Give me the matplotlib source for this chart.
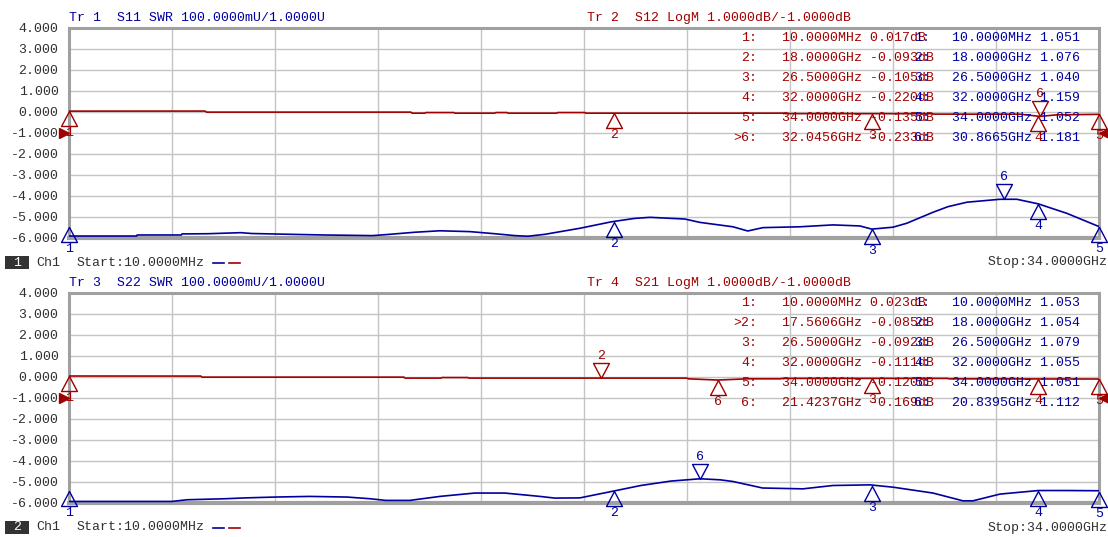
import numpy as np
import matplotlib
matplotlib.use("Agg")
import matplotlib.pyplot as plt
from matplotlib.path import Path
from matplotlib.patches import Rectangle
from matplotlib.lines import Line2D
from matplotlib.transforms import offset_copy

# ---------------- data ----------------
start_ghz = 0.01
stop_ghz = 34.0

# Panel 1, Tr1 S11 SWR
freq_s11 = [0.01, 2.24, 2.26, 3.72, 3.74, 4.59, 5.68, 6.04, 7.36, 8.42, 10.03, 10.50, 11.42,
            12.25, 13.24, 14.06, 14.72, 15.15, 15.71, 16.87, 17.92, 18.68, 19.18, 20.33, 20.83,
            21.92, 22.41, 22.91, 24.13, 25.22, 26.11, 26.50, 27.20, 27.66, 28.52, 29.02, 29.64,
            30.73, 31.29, 32.00, 32.94, 34.0]
swr_s11 = [1.007, 1.007, 1.012, 1.012, 1.017, 1.018, 1.023, 1.019, 1.015, 1.012, 1.009, 1.014, 1.025,
           1.032, 1.028, 1.018, 1.009, 1.006, 1.015, 1.044, 1.075, 1.091, 1.096, 1.088, 1.072,
           1.051, 1.031, 1.047, 1.051, 1.060, 1.055, 1.040, 1.049, 1.068, 1.120, 1.147, 1.168,
           1.182, 1.182, 1.160, 1.115, 1.052]

# Panel 1, Tr2 S12 LogM (dB)
freq_s12 = [0.01, 4.50, 4.55, 11.29, 11.33, 11.75, 11.79, 12.71, 12.75, 14.06, 14.10, 14.46,
            14.50, 16.10, 16.14, 17.03, 17.07, 23.60, 23.65, 28.50, 28.55, 31.40, 32.05, 32.60, 34.0]
db_s12 = [0.017, 0.020, -0.030, -0.030, -0.080, -0.080, -0.050, -0.050, -0.080, -0.080, -0.050, -0.050,
          -0.080, -0.080, -0.050, -0.050, -0.080, -0.080, -0.100, -0.105, -0.125, -0.130, -0.233, -0.160, -0.135]

# Panel 2, Tr3 S22 SWR
freq_s22 = [0.01, 3.40, 3.90, 5.18, 5.84, 6.83, 7.95, 9.18, 9.94, 10.46, 11.26, 12.25, 13.40, 14.39,
            15.55, 16.04, 16.87, 18.00, 18.88, 19.87, 20.84, 21.50, 21.92, 22.90, 24.23, 25.22, 26.44,
            27.20, 28.52, 29.51, 29.84, 30.73, 32.00, 32.94, 34.0]
swr_s22 = [1.005, 1.005, 1.013, 1.018, 1.022, 1.026, 1.029, 1.026, 1.018, 1.010, 1.010, 1.029, 1.045, 1.045,
           1.029, 1.021, 1.022, 1.055, 1.081, 1.102, 1.113, 1.108, 1.100, 1.069, 1.065, 1.081, 1.084,
           1.073, 1.045, 1.008, 1.008, 1.040, 1.057, 1.057, 1.056]

# Panel 2, Tr4 S21 LogM (dB)
freq_s21 = [0.01, 4.36, 4.40, 11.06, 11.10, 12.28, 12.32, 13.17, 13.21, 20.40, 20.45, 21.42,
            22.40, 23.50, 23.55, 29.00, 29.05, 34.0]
db_s21 = [0.023, 0.020, -0.030, -0.030, -0.076, -0.076, -0.050, -0.050, -0.076, -0.076, -0.110, -0.169,
          -0.110, -0.110, -0.090, -0.090, -0.110, -0.120]

# Marker tables (freq GHz, value)
mk_s12_f = [0.01, 18.0, 26.5, 32.0, 34.0, 32.0456]
mk_s12_v = [0.017, -0.093, -0.105, -0.220, -0.135, -0.233]
mk_s11_f = [0.01, 18.0, 26.5, 32.0, 34.0, 30.8665]
mk_s11_v = [1.051, 1.076, 1.040, 1.159, 1.052, 1.181]
mk_s21_f = [0.01, 17.5606, 26.5, 32.0, 34.0, 21.4237]
mk_s21_v = [0.023, -0.085, -0.092, -0.111, -0.120, -0.169]
mk_s22_f = [0.01, 18.0, 26.5, 32.0, 34.0, 20.8395]
mk_s22_v = [1.053, 1.054, 1.079, 1.055, 1.051, 1.112]

y_ticks = [4, 3, 2, 1, 0, -1, -2, -3, -4, -5, -6]

titles_swr = ["Tr 1  S11 SWR 100.0000mU/1.0000U", "Tr 3  S22 SWR 100.0000mU/1.0000U"]
titles_db = ["Tr 2  S12 LogM 1.0000dB/-1.0000dB", "Tr 4  S21 LogM 1.0000dB/-1.0000dB"]

# ---------------- style ----------------
W, H = 1108, 537
BLUE = "#0000A0"
RED = "#A00000"
TXT = "#303030"
FRAME = "#A0A0A0"
GRID = "#C4C4C4"
FONT = "Liberation Mono"
FS = 9.5

fig = plt.figure(figsize=(W / 100, H / 100), dpi=100)
fig.patch.set_facecolor("white")


def fx(x):
    return x / W


def fy(y):
    return 1 - y / H


def ftext(x, y, s, color=TXT, ha="left", **kw):
    fig.text(fx(x), fy(y), s, color=color, ha=ha, va="center",
             family=FONT, fontsize=FS, **kw)


up_path = Path([(0, 0), (-0.53, -1), (0.53, -1), (0, 0)],
               [Path.MOVETO, Path.LINETO, Path.LINETO, Path.CLOSEPOLY])
down_path = Path([(0, 0), (-0.53, 1), (0.53, 1), (0, 0)],
                 [Path.MOVETO, Path.LINETO, Path.LINETO, Path.CLOSEPOLY])


def fmt_freq(f):
    if f < 1:
        return f"{f * 1000:.4f}MHz"
    return f"{f:.4f}GHz"


def draw_marker(ax, f, v, n, color, down=False):
    ax.plot([f], [v], ls="none", marker=down_path if down else up_path, ms=21.6,
            mfc="none", mec=color, mew=1.0, clip_on=False, zorder=6)
    ax.annotate(str(n), (f, v), xytext=(0, 22 if down else -22), textcoords="offset pixels",
                ha="center", va="center", color=color, family=FONT, fontsize=FS,
                annotation_clip=False, zorder=6)


panels = [
    dict(top=27.5, f_swr=freq_s11, swr=swr_s11, f_db=freq_s12, db=db_s12,
         mk_db=(mk_s12_f, mk_s12_v), mk_swr=(mk_s11_f, mk_s11_v), active_db=6, down_db={6},
         down_swr={6}, chn="1"),
    dict(top=292.5, f_swr=freq_s22, swr=swr_s22, f_db=freq_s21, db=db_s21,
         mk_db=(mk_s21_f, mk_s21_v), mk_swr=(mk_s22_f, mk_s22_v), active_db=2, down_db={2},
         down_swr={6}, chn="2"),
]

for i, p in enumerate(panels):
    top = p["top"]
    bot = top + 210
    ax = fig.add_axes([fx(69), fy(bot), 1030 / W, 210 / H])
    ax.set_xlim(start_ghz, stop_ghz)
    ax.set_ylim(-6, 4)
    ax.set_xticks(np.linspace(start_ghz, stop_ghz, 11))
    ax.set_xticklabels([])
    ax.set_yticks(y_ticks)
    ax.set_yticklabels([f"{t:.3f}" for t in y_ticks], family=FONT, fontsize=FS, color=TXT)
    ax.tick_params(length=0, pad=7.5)
    ax.grid(True, color=GRID, lw=1.0)
    ax.set_axisbelow(True)
    for s in ax.spines.values():
        s.set_color(FRAME)
        s.set_linewidth(2.2)
    ax.spines["bottom"].set_linewidth(3)

    # SWR trace on its own scale: 100 mU/div, ref 1.0 U at bottom
    ax2 = ax.twinx()
    ax2.set_ylim(1.0, 2.0)
    ax2.set_yticks([])
    for s in ax2.spines.values():
        s.set_visible(False)

    ax.plot(p["f_db"], p["db"], color=RED, lw=1.2, zorder=5)
    ax2.plot(p["f_swr"], p["swr"], color=BLUE, lw=1.2, zorder=5)

    # reference arrows for LogM trace (ref -1 dB)
    tl = offset_copy(ax.transData, fig=fig, x=-5, y=0, units="dots")
    tr = offset_copy(ax.transData, fig=fig, x=5, y=0, units="dots")
    ax.plot([start_ghz], [-1], marker=">", ms=7, color=RED, transform=tl, clip_on=False, zorder=7)
    ax.plot([stop_ghz], [-1], marker="<", ms=7, color=RED, transform=tr, clip_on=False, zorder=7)

    mf, mv = p["mk_db"]
    for k, (f, v) in enumerate(zip(mf, mv), start=1):
        draw_marker(ax, f, v, k, RED, down=(k in p["down_db"]))
    sf, sv = p["mk_swr"]
    for k, (f, v) in enumerate(zip(sf, sv), start=1):
        draw_marker(ax2, f, v, k, BLUE, down=(k in p["down_swr"]))

    # titles
    ty = top - 9.5
    ftext(69, ty, titles_swr[i], color=BLUE)
    ftext(587, ty, titles_db[i], color=RED)

    # marker tables
    for k in range(6):
        ry = top + 10.5 + 20 * k
        lab = (">" if (k + 1) == p["active_db"] else "") + f"{k + 1}:"
        ftext(757, ry, lab, color=RED, ha="right")
        ftext(782, ry, f"{fmt_freq(mf[k])} {mv[k]:.3f}dB", color=RED)
        ftext(930, ry, f"{k + 1}:", color=BLUE, ha="right")
        ftext(952, ry, f"{fmt_freq(sf[k])} {sv[k]:.3f}", color=BLUE)

    # footer
    fy0 = bot + 25
    fig.patches.append(Rectangle((fx(5), fy(fy0 + 6.5)), 24 / W, 13 / H,
                                 transform=fig.transFigure, facecolor="#333333",
                                 edgecolor="none"))
    ftext(17, fy0, p["chn"], color="white", ha="center")
    ftext(36, fy0, "Ch1")
    ftext(77, fy0, f"Start:{fmt_freq(start_ghz)}")
    fig.lines.append(Line2D([fx(213), fx(224)], [fy(fy0), fy(fy0)], color=BLUE, lw=1.2,
                            transform=fig.transFigure))
    fig.lines.append(Line2D([fx(229), fx(240)], [fy(fy0), fy(fy0)], color=RED, lw=1.2,
                            transform=fig.transFigure))
    ftext(1108, fy0, f"Stop:{fmt_freq(stop_ghz)}", ha="right")

fig.savefig("out.png", dpi=100, facecolor="white")
